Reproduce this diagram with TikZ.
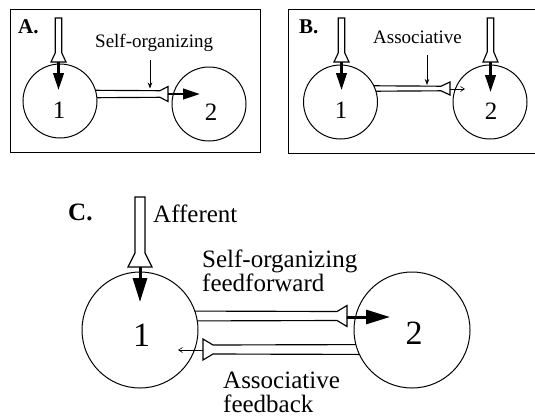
\documentclass[tikz,border=0pt]{standalone}
\usepackage{fontspec}
\setmainfont{Liberation Serif}
\usetikzlibrary{arrows.meta,calc}
% vertical afferent: xc, ytop, yflare, yend, w, W
\newcommand\afferentshape[6]{%
  \draw[tubeline] (#1-#5,#2) -- (#1-#5,#3) -- (#1-#6,#4) -- (#1+#6,#4) -- (#1+#5,#3) -- (#1+#5,#2) -- cycle;}
% horizontal tube: x0 (start), x1 (flare start), x2 (flare end), yc, h, H
\newcommand\tubeshape[6]{%
  \draw[tubeline] (#1,#4-#5) -- (#2,#4-#5+0.5) -- (#3,#4-#6) -- (#3,#4+#6) -- (#2,#4+#5-0.5) -- (#1,#4+#5) -- cycle;}
\begin{document}
\begin{tikzpicture}[x=1pt,y=-1pt,
  boxline/.style={line width=0.8pt},
  tubeline/.style={line width=1.15pt,fill=white,line join=miter},
  circsmall/.style={circle,draw,line width=1pt,fill=white,inner sep=0pt,minimum size=74pt},
  circbig/.style={circle,draw,line width=1pt,fill=white,inner sep=0pt,minimum size=116pt},
  blksmall/.style={line width=2.3pt,-{Triangle[length=17pt,width=10.5pt]}},
  blkbig/.style={line width=3pt,-{Triangle[length=24pt,width=14pt]}},
  thinarrow/.style={line width=0.7pt,-{Stealth[length=6pt,width=4.5pt]}},
  tinyarrow/.style={line width=0.6pt,-{Straight Barb[length=4pt,width=5pt]}},
  lblsmall/.style={inner sep=0pt,anchor=base west,font=\fontsize{19}{22}\selectfont},
  lblbig/.style={inner sep=0pt,anchor=base west,font=\fontsize{25}{28}\selectfont},
  twoline/.style={inner sep=0pt,anchor=base west,align=left,font=\fontsize{25}{#1}\selectfont},
  digsmall/.style={inner sep=0pt,anchor=base,font=\fontsize{25}{28}\selectfont},
  digbig/.style={inner sep=0pt,anchor=base,font=\fontsize{34}{38}\selectfont},
  panelsmall/.style={inner sep=0pt,anchor=base west,font=\fontsize{21}{24}\selectfont\bfseries},
  panelbig/.style={inner sep=0pt,anchor=base west,font=\fontsize{25}{28}\selectfont\bfseries}]
\useasboundingbox (0,0) rectangle (535,418);

% panel frames
\draw[boxline] (10,9) rectangle (260,152);
\draw[boxline] (535,9) -- (288,9) -- (288,153) -- (535,153);

% ---------- Panel A ----------
\afferentshape{58.5}{18}{53}{62}{3.3}{7.5}
\tubeshape{80}{160}{168}{94}{3.8}{7.5}
\node[circsmall] (a1) at (60,101) {};
\node[circsmall] (a2) at (209,104) {};
\coordinate (aAffEnd) at (58.5,62);
\coordinate (aAffTip) at (58.5,90);
\coordinate (aTubeEnd) at (168,94);
\coordinate (aTubeTip) at (200,94);
\draw[blksmall] (aAffEnd) -- (aAffTip);
\draw[blksmall] (aTubeEnd) -- (aTubeTip);
\coordinate (aMarkTop) at (150,60);
\coordinate (aMarkBot) at (150,88.5);
\draw[thinarrow] (aMarkTop) -- (aMarkBot);
\node[panelsmall] (labA) at (18,33) {A.};
\node[lblsmall] (selfA) at (95,47) {Self-organizing};
\node[digsmall] (a1t) at (59,118.5) {1};
\node[digsmall] (a2t) at (211,120) {2};

% ---------- Panel B ----------
\afferentshape{341.5}{18}{53}{62}{3.3}{7.5}
\afferentshape{490.5}{18}{52}{62}{3.3}{7.5}
\tubeshape{360}{441}{450}{88.5}{2.8}{6.5}
\node[circsmall] (b1) at (340.5,102) {};
\node[circsmall] (b2) at (490,102) {};
\coordinate (bAff1End) at (341.5,62);
\coordinate (bAff1Tip) at (341.5,90);
\coordinate (bAff2End) at (490.5,62);
\coordinate (bAff2Tip) at (490.5,92);
\draw[blksmall] (bAff1End) -- (bAff1Tip);
\draw[blksmall] (bAff2End) -- (bAff2Tip);
\coordinate (bTubeEnd) at (450,89);
\coordinate (bTubeTip) at (465,89);
\draw[tinyarrow] (bTubeEnd) -- (bTubeTip);
\coordinate (bMarkTop) at (427,55);
\coordinate (bMarkBot) at (427,85);
\draw[thinarrow] (bMarkTop) -- (bMarkBot);
\node[panelsmall] (labB) at (299,33) {B.};
\node[lblsmall] (assocB) at (373,43.5) {Associative};
\node[digsmall] (b1t) at (341,118) {1};
\node[digsmall] (b2t) at (491,119.5) {2};

% ---------- Panel C ----------
\afferentshape{140}{197}{253}{267}{5}{12}
\tubeshape{170}{337}{347}{316}{5}{10.5}
\tubeshape{385}{213}{203}{349.5}{5}{10.5}
\node[circbig] (c1) at (140,330) {};
\node[circbig] (c2) at (412,330) {};
\coordinate (cAffEnd) at (140,267);
\coordinate (cAffTip) at (140,302);
\draw[blkbig] (cAffEnd) -- (cAffTip);
\coordinate (cFfEnd) at (347,317);
\coordinate (cFfTip) at (390,317);
\draw[blkbig] (cFfEnd) -- (cFfTip);
\coordinate (cFbEnd) at (203,350);
\coordinate (cFbTip) at (178,350);
\draw[tinyarrow] (cFbEnd) -- (cFbTip);
\node[panelbig] (labC) at (68,220) {C.};
\node[lblbig] (aff) at (153,222) {Afferent};
\node[twoline=22.5] (ffC) at (202,291) {Self-organizing\\feedforward};
\node[twoline=24] (fbC) at (223,412.5) {Associative\\feedback};
\node[digbig] (c1t) at (141.5,346) {1};
\node[digbig] (c2t) at (414,344) {2};
\end{tikzpicture}
\end{document}
